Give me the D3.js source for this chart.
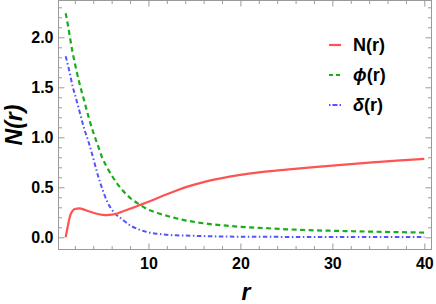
<!DOCTYPE html>
<html>
<head>
<meta charset="utf-8">
<script src="https://cdn.jsdelivr.net/npm/d3@7"></script>
<style>
  html, body { margin: 0; padding: 0; background: #fff; }
  svg { display: block; }
  text { font-family: "Liberation Sans", Arial, sans-serif; font-weight: bold; }
</style>
</head>
<body>
<svg id="chart" width="436" height="304"></svg>
<script>
// ---- data ----
const rValues = [1, 1.25, 1.5, 1.75, 2, 2.5, 3, 3.5, 4, 4.5, 5, 5.5, 6, 6.5, 7, 8, 9, 10, 11, 12, 13, 14, 16, 18, 20, 22, 25, 28, 31, 34, 37, 40];
const seriesN = [0.0, 0.12, 0.22, 0.265, 0.283, 0.29, 0.277, 0.26, 0.245, 0.233, 0.225, 0.222, 0.226, 0.235, 0.252, 0.285, 0.32, 0.355, 0.394, 0.431, 0.466, 0.499, 0.552, 0.592, 0.624, 0.649, 0.677, 0.702, 0.725, 0.746, 0.766, 0.785];
const seriesPhi = [2.24, 2.12, 1.98, 1.85, 1.74, 1.54, 1.37, 1.2, 1.05, 0.92, 0.79, 0.70, 0.62, 0.55, 0.49, 0.395, 0.33, 0.275, 0.243, 0.215, 0.19, 0.17, 0.14, 0.12, 0.105, 0.095, 0.08, 0.07, 0.063, 0.057, 0.052, 0.047];
const seriesDelta = [1.81, 1.72, 1.62, 1.51, 1.43, 1.26, 1.09, 0.95, 0.79, 0.62, 0.48, 0.36, 0.28, 0.225, 0.19, 0.12, 0.077, 0.05, 0.035, 0.025, 0.02, 0.017, 0.012, 0.008, 0.006, 0.005, 0.004, 0.003, 0.003, 0.002, 0.002, 0.002];
const seriesNames = ["N(r)", "\u03D5(r)", "\u03B4(r)"];
const xMajorTicks = [10, 20, 30, 40];
const yMajorTicks = [0, 0.5, 1.0, 1.5, 2.0];

// ---- layout ----
const svg = d3.select("#chart");
const pLeft = 58.5, pRight = 431.5, pTop = 0.5, pBottom = 249.5;
const x = d3.scaleLinear().domain([0.22, 40.78]).range([pLeft, pRight]);
const y = d3.scaleLinear().domain([-0.122, 2.368]).range([pBottom, pTop]);

const frameColor = "#9a9a9a";
const xMinor = d3.range(2, 41, 2).filter(v => v % 10 !== 0);
const yMinor = d3.range(0, 24).map(i => +(i * 0.1).toFixed(1)).filter(v => Math.abs(v * 2 - Math.round(v * 2)) > 1e-6);

function styleAxis(g) {
  g.select(".domain").remove();
  g.selectAll(".tick line").attr("stroke", frameColor);
  g.selectAll("text").attr("fill", "#000").style("font-size", "16px").style("font-weight", "bold")
    .style("font-family", '"Liberation Sans", Arial, sans-serif');
}

// bottom
svg.append("g").attr("transform", `translate(0,${pBottom})`)
  .call(d3.axisBottom(x).tickValues(xMajorTicks).tickSize(-6).tickPadding(8).tickFormat(d3.format("d")))
  .call(styleAxis);
svg.append("g").attr("transform", `translate(0,${pBottom})`)
  .call(d3.axisBottom(x).tickValues(xMinor).tickSize(-3.5).tickFormat(""))
  .call(styleAxis);
// top
svg.append("g").attr("transform", `translate(0,${pTop})`)
  .call(d3.axisTop(x).tickValues(xMajorTicks).tickSize(-6).tickFormat(""))
  .call(styleAxis);
svg.append("g").attr("transform", `translate(0,${pTop})`)
  .call(d3.axisTop(x).tickValues(xMinor).tickSize(-3.5).tickFormat(""))
  .call(styleAxis);
// left
svg.append("g").attr("transform", `translate(${pLeft},0)`)
  .call(d3.axisLeft(y).tickValues(yMajorTicks).tickSize(-6).tickPadding(5).tickFormat(d3.format(".1f")))
  .call(styleAxis);
svg.append("g").attr("transform", `translate(${pLeft},0)`)
  .call(d3.axisLeft(y).tickValues(yMinor).tickSize(-3.5).tickFormat(""))
  .call(styleAxis);
// right
svg.append("g").attr("transform", `translate(${pRight},0)`)
  .call(d3.axisRight(y).tickValues(yMajorTicks).tickSize(-6).tickFormat(""))
  .call(styleAxis);
svg.append("g").attr("transform", `translate(${pRight},0)`)
  .call(d3.axisRight(y).tickValues(yMinor).tickSize(-3.5).tickFormat(""))
  .call(styleAxis);

// frame
svg.append("rect").attr("x", pLeft).attr("y", pTop).attr("width", pRight - pLeft).attr("height", pBottom - pTop)
  .attr("fill", "none").attr("stroke", frameColor).attr("stroke-width", 1);

// ---- curves ----
svg.append("clipPath").attr("id", "plotclip").append("rect")
  .attr("x", pLeft).attr("y", pTop).attr("width", pRight - pLeft).attr("height", pBottom - pTop);

const styles = [
  { color: "#ff5252", dash: null, width: 2.2 },
  { color: "#1aad1a", dash: "5,3.5", width: 2.2 },
  { color: "#5454ff", dash: "4.5,2.5,1.5,2.5", width: 2 }
];
const allSeries = [seriesN, seriesPhi, seriesDelta];
const line = d3.line().curve(d3.curveMonotoneX).x(d => x(d[0])).y(d => y(d[1]));

// draw order: delta, phi, N on top
[2, 1, 0].forEach(i => {
  const pts = rValues.map((r, k) => [r, allSeries[i][k]]);
  svg.append("path").attr("d", line(pts))
    .attr("clip-path", "url(#plotclip)")
    .attr("fill", "none").attr("stroke", styles[i].color)
    .attr("stroke-width", styles[i].width)
    .attr("stroke-dasharray", styles[i].dash);
});

// ---- legend ----
const legendY = [45, 75, 105];
seriesNames.forEach((name, i) => {
  const g = svg.append("g");
  g.append("line").attr("x1", 329).attr("x2", 341).attr("y1", legendY[i]).attr("y2", legendY[i])
    .attr("stroke", styles[i].color).attr("stroke-width", styles[i].width)
    .attr("stroke-dasharray", i === 1 ? "4,3" : (i === 2 ? "1.5,2,5,2" : null));
  const t = g.append("text").attr("x", 353).attr("y", legendY[i] + 6).style("font-size", "18px");
  if (i === 0) {
    t.text(name);
  } else {
    t.append("tspan").style("font-style", "italic").text(name.charAt(0));
    t.append("tspan").text(name.slice(1));
  }
});

// ---- axis labels ----
svg.append("text").attr("x", 246).attr("y", 300).attr("text-anchor", "middle")
  .style("font-size", "23px").style("font-style", "italic").text("r");
svg.append("text").attr("transform", "translate(22,125) rotate(-90)").attr("text-anchor", "middle")
  .style("font-size", "23px").style("font-style", "italic").text("N(r)");
</script>
</body>
</html>
